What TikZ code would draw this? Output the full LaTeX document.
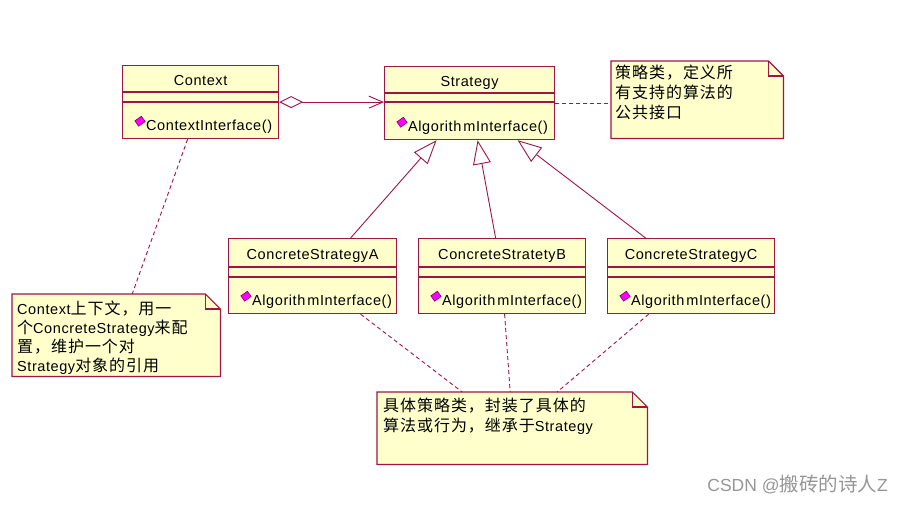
\documentclass[tikz,border=0pt]{standalone}
\usepackage{fontspec}
\setmainfont{Liberation Sans}[LetterSpace=4]
\newfontfamily\cjkf{Noto Sans CJK SC}[LetterSpace=6]
\newfontfamily\wmf{Liberation Sans}
\newfontfamily\cjkwm{Noto Sans CJK SC}
\newcommand\zh[1]{{\cjkf\fontsize{16}{19}\selectfont #1}}
\usetikzlibrary{arrows.meta}
\definecolor{umlline}{RGB}{160,20,70}
\definecolor{umlfill}{RGB}{255,255,204}
\definecolor{icofill}{RGB}{255,0,255}
\definecolor{icoline}{RGB}{120,0,100}
\definecolor{wmgray}{RGB}{150,150,150}

\newcommand\umlclass[9]{%
  \node[classbox, minimum width=#4pt, minimum height=#5pt] (#1) at (#2,#3) {};
  \draw[divider] ([yshift=-#6pt]#1.north west) -- ([yshift=-#6pt]#1.north east);
  \draw[divider] ([yshift=-#7pt]#1.north west) -- ([yshift=-#7pt]#1.north east);
  \node[ttl, anchor=base] (#1-t) at ([yshift={-(#6/2+6.5)*1pt}]#1.north) {#8};
  \node[icon] (#1-i) at ([xshift=18pt,yshift=18pt]#1.south west) {};
  \node[mth, anchor=base west] (#1-m) at ([xshift=24pt,yshift=8.5pt]#1.south west) {#9};
}
\newcommand\umlnote[5]{%
  \node[anchorbox, minimum width=#4pt, minimum height=#5pt] (#1) at (#2,#3) {};
  \draw[notebody] (#1.north west) -- ([xshift=-15pt]#1.north east) -- ([yshift=-15pt]#1.north east) -- (#1.south east) -- (#1.south west) -- cycle;
  \draw[divider] ([xshift=-15pt]#1.north east) |- ([yshift=-15pt]#1.north east);
}

\begin{document}
\begin{tikzpicture}[x=1pt,y=-1pt,
  classbox/.style={draw=umlline, fill=umlfill, line width=1.2pt, inner sep=0, anchor=north west},
  divider/.style={draw=umlline, line width=1.1pt},
  notebody/.style={draw=umlline, fill=umlfill, line width=1.2pt},
  anchorbox/.style={inner sep=0, anchor=north west},
  ttl/.style={inner sep=0, font=\fontsize{14.5}{17}\selectfont},
  mth/.style={inner sep=0, font=\fontsize{14.5}{17}\selectfont},
  ntxt/.style={inner sep=0, anchor=base west, font=\fontsize{14.5}{17}\selectfont},
  icon/.style={draw=icoline, fill=icofill, line width=0.6pt, minimum width=8pt, minimum height=6.5pt, inner sep=0, rotate=35, shape=rectangle},
  link/.style={draw=umlline, line width=0.9pt},
  dashlink/.style={link, dash pattern=on 4pt off 3pt},
  gen/.style={link, -{Triangle[open, length=24pt, width=18pt, fill=white]}},
  agg/.style={link, {Diamond[open, length=24pt, width=12pt, fill=white]}-{Straight Barb[length=14pt, width=12pt]}},
]
\fill[white] (0,0) rectangle (904,504);
\useasboundingbox (0,0) rectangle (904,504);

\umlclass{ctx}{122}{65}{156}{73}{27}{37}{Context}{ContextInterface()}
\umlclass{str}{384}{66}{170}{73}{27}{36}{Strategy}{Algorith\kern2pt mInterface()}
\umlclass{csa}{228}{238}{168}{75}{29}{39}{ConcreteStrategyA}{Algorith\kern2pt mInterface()}
\umlclass{csb}{418}{238}{167}{75}{29}{39}{ConcreteStratetyB}{Algorith\kern2pt mInterface()}
\umlclass{csc}{607}{238}{167}{75}{29}{39}{ConcreteStrategyC}{Algorith\kern2pt mInterface()}

\umlnote{snote}{611}{61}{172}{77}
\umlnote{cnote}{12}{294}{208}{82}
\umlnote{bnote}{377}{392}{270}{72}

\node[ntxt] (sn1) at (615,78) {\zh{策略类，定义所}};
\node[ntxt] (sn2) at (615,98) {\zh{有支持的算法的}};
\node[ntxt] (sn3) at (615,118) {\zh{公共接口}};

\node[ntxt] (cn1) at (17,314) {Context\zh{上下文，用一}};
\node[ntxt] (cn2) at (17,333) {\zh{个}ConcreteStrategy\zh{来配}};
\node[ntxt] (cn3) at (17,352) {\zh{置，维护一个对}};
\node[ntxt] (cn4) at (17,371) {Strategy\zh{对象的引用}};

\node[ntxt] (bn1) at (383,411) {\zh{具体策略类，封装了具体的}};
\node[ntxt] (bn2) at (383,431) {\zh{算法或行为，继承于}Strategy};

\draw[agg] (ctx.east) -- (ctx.east -| str.west);
\draw[dashlink] (str.east) -- (str.east -| snote.west);
\draw[gen] ([xshift=38pt]csa.north) -- ([xshift=-33pt]str.south);
\draw[gen] ([xshift=-6.5pt]csb.north) -- ([xshift=8pt]str.south);
\draw[gen] ([xshift=-45.5pt]csc.north) -- ([xshift=48pt]str.south);
\draw[dashlink] ([xshift=-13pt]ctx.south) -- ([xshift=16pt]cnote.north);
\draw[dashlink] ([xshift=48pt]csa.south) -- ([xshift=-50pt]bnote.north);
\draw[dashlink] ([xshift=2.5pt]csb.south) -- ([xshift=-2pt]bnote.north);
\draw[dashlink] ([xshift=-42.5pt]csc.south) -- ([xshift=45pt]bnote.north);

\node[inner sep=0, anchor=base east, text=wmgray] (wm) at (888,491) {\wmf\fontsize{17.5}{20}\selectfont CSDN @{\cjkwm\fontsize{19.5}{22}\selectfont 搬砖的诗人}Z};
\end{tikzpicture}
\end{document}
